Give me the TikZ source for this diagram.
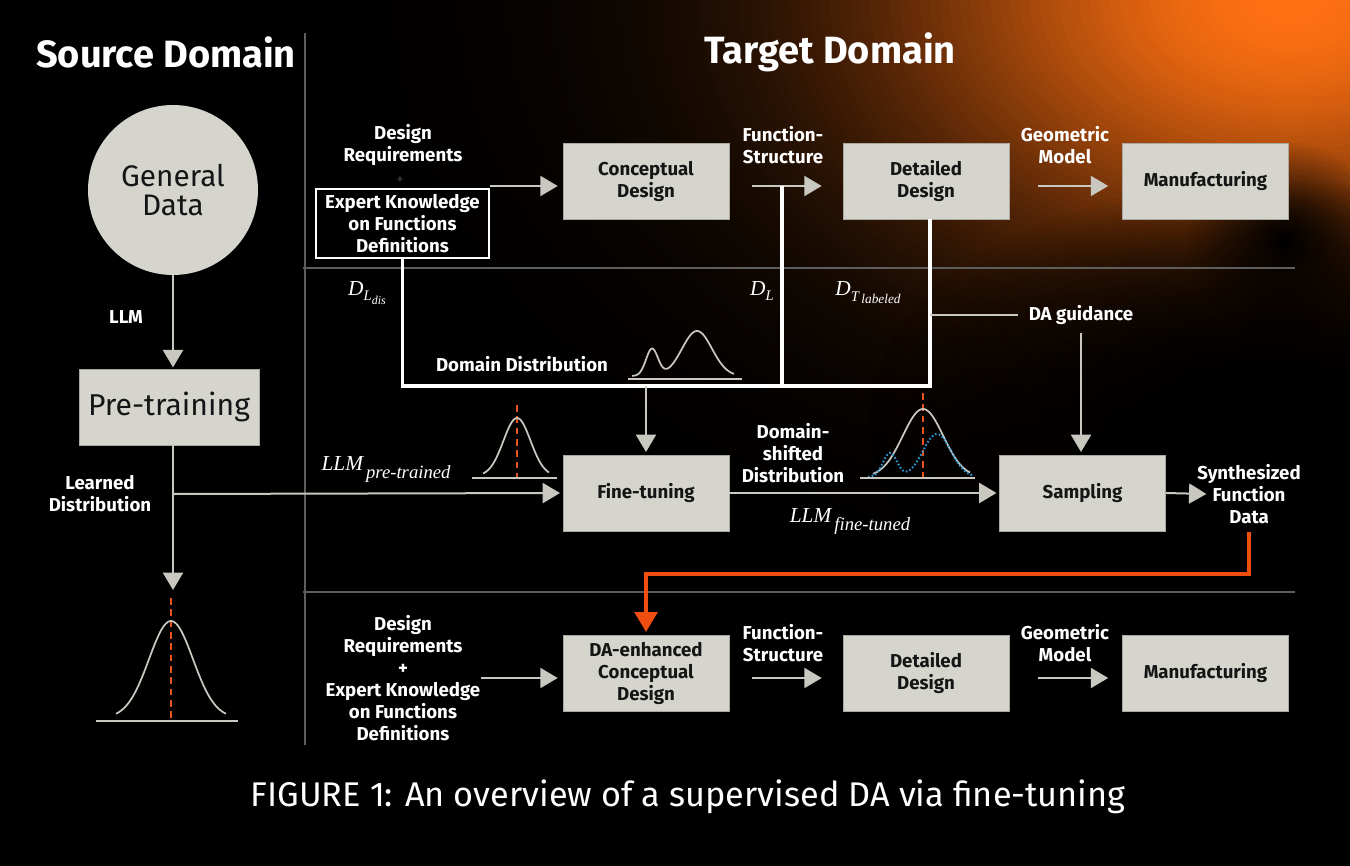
\documentclass[tikz,border=0pt]{standalone}
\usepackage{fontspec}
\setmainfont{Fira Sans}
\newfontfamily\tms{Liberation Serif}
\usetikzlibrary{arrows.meta,fadings}
\definecolor{boxfill}{HTML}{D5D5CD}
\definecolor{boxedge}{HTML}{A8A8A0}
\definecolor{boxtext}{HTML}{151515}
\definecolor{arrowgray}{HTML}{C8C8C0}
\definecolor{divgray}{HTML}{5E5E5E}
\definecolor{orangeA}{HTML}{F04E10}
\definecolor{dashor}{HTML}{E8541C}
\definecolor{bluedot}{HTML}{2A9AD8}
\definecolor{glowO}{HTML}{FF7012}
\tikzfading[name=linfade, inner color=transparent!0, outer color=transparent!100]
\newcommand\labfont{\bfseries\fontsize{14}{16.5}\selectfont}
\begin{document}
\begin{tikzpicture}[x=0.75pt,y=-0.75pt,
  box/.style={fill=boxfill, draw=boxedge, line width=0.5pt, minimum width=124.5pt, minimum height=57pt, align=center, inner sep=0pt, text=boxtext, font=\labfont},
  lab/.style={text=white, align=center, inner sep=0pt, font=\labfont},
  itl/.style={text=white, inner sep=0pt, font=\tms\itshape\fontsize{16}{16}\selectfont},
  arr/.style={draw=arrowgray, line width=1.5pt, -{Triangle[width=15pt,length=13pt]}},
  gline/.style={draw=arrowgray, line width=1.5pt},
  bracket/.style={draw=white, line width=2.6pt},
  divider/.style={draw=divgray, line width=1.5pt},
  oarr/.style={draw=orangeA, line width=3pt, -{Triangle[width=17pt,length=15pt]}},
  curve/.style={draw=arrowgray, line width=1.3pt},
  odash/.style={draw=dashor, line width=1.5pt, dash pattern=on 5pt off 3.5pt},
  bdot/.style={draw=bluedot, line width=1.5pt, dash pattern=on 1.2pt off 1.6pt}
]
\useasboundingbox (0,0) rectangle (1350,866);
\fill[black] (0,0) rectangle (1350,866);
\begin{scope}
  \clip (0,0) rectangle (1350,866);
  \foreach \i in {90,89,...,1} {
    \pgfmathsetmacro{\dd}{\i*10}
    \pgfmathsetmacro{\bv}{100*exp(-(\dd/400)^2)}
    \fill[glowO!\bv!black] (1290,0) ellipse [x radius=\dd*0.75pt, y radius=\dd*0.4875pt];
  }
  \fill[black, path fading=linfade] (1270,420) ellipse [x radius=300pt, y radius=180pt];
  \fill[black, path fading=linfade] (1270,420) ellipse [x radius=300pt, y radius=180pt];
  \fill[black, path fading=linfade] (1285,240) circle (75pt);
\end{scope}

% dividers
\draw[divider] (305,33) -- (305,745);
\draw[divider] (303,268) -- (1295,268);
\draw[divider] (303,592) -- (1295,592);

% titles
\node[text=white, font=\bfseries\fontsize{28.5}{30}\selectfont, inner sep=0] (tsrc) at (166,52) {Source Domain};
\node[text=white, font=\bfseries\fontsize{28.5}{30}\selectfont, inner sep=0] (ttgt) at (830,52) {Target Domain};

% source domain
\node[circle, fill=boxfill, minimum size=127.5pt, inner sep=0, align=center, text=boxtext, font=\fontsize{22.3}{22}\selectfont] (gd) at (173,190) {General\\Data};
\node[box, minimum width=135pt, font=\fontsize{22.6}{22}\selectfont] (pt) at (169,407) {Pre-training};
\node[lab] (llm) at (126,317) {LLM};
\node[lab] (ldl) at (100,494) {Learned\\Distribution};
\draw[arr, shorten >=1pt] (gd.south) -- (gd.south |- pt.north);
\coordinate (gtip) at (173,590);
\coordinate (ldj) at (173,494);
\draw[arr] (pt.south -| gd.south) -- (gtip);

% bottom-left gaussian
\draw[odash] (171,598) -- (171,721);
\draw[curve] plot[domain=-55:55, samples=70] ({171+\x}, {718-97*exp(-(\x)*(\x)/968)});
\draw[gline] (96,721) -- (238,721);

% target domain top row
\coordinate (row1) at (0,186);
\coordinate (row3) at (0,678);
\node[box] (cd) at (646,181) {Conceptual\\Design};
\node[box] (dd) at (926,181) {Detailed\\Design};
\node[box] (mf) at (1205.5,181) {Manufacturing};
\node[lab] (dr1) at (403,145) {Design\\Requirements};
\node[text=divgray!60!black, font=\bfseries\fontsize{9}{9}\selectfont, inner sep=0] (plus1) at (400,180) {+};
\node[draw=white, line width=1.5pt, minimum width=129.75pt, minimum height=51.75pt, align=center, inner sep=0, text=white, font=\labfont] (ek) at (402.5,223.5) {Expert Knowledge\\on Functions\\Definitions};
\node[lab] (fs1) at (783,145) {Function-\\Structure};
\node[lab] (gm1) at (1065,145) {Geometric\\Model};
\draw[arr, shorten >=3.75pt] (ek.east |- row1) -- (cd.west |- row1);
\draw[arr, shorten <=17.25pt, shorten >=15.75pt] (cd.east |- row1) -- (dd.west |- row1);
\draw[arr, shorten <=21.75pt, shorten >=10.5pt] (dd.east |- row1) -- (mf.west |- row1);

% domain bracket
\coordinate (bl) at (0,386);
\coordinate (fsj) at (782,186);
\coordinate (ddx) at ([xshift=3pt]dd.south);
\draw[bracket] (ek.south) -- (ek.south |- bl) -- (ddx |- bl) -- (ddx);
\draw[bracket] (fsj) -- (fsj |- bl);
\node[itl] (dldis) at (367,293) {D\raisebox{-4pt}{\fontsize{11}{11}\selectfont L\raisebox{-3pt}{\fontsize{9}{9}\selectfont dis}}};
\node[itl] (dl) at (762,291) {D\raisebox{-4pt}{\fontsize{11}{11}\selectfont L}};
\node[itl] (dtl) at (868,293) {D\raisebox{-4pt}{\fontsize{11}{11}\selectfont T\,\raisebox{-2pt}{\fontsize{10}{10}\selectfont labeled}}};
\node[lab] (dds) at (522,364) {Domain Distribution};
\draw[curve] plot[domain=632:734, samples=90] (\x, {376-27*exp(-(\x-652)*(\x-652)/72)-45*exp(-(\x-697)*(\x-697)/450)});
\draw[gline] (628,379) -- (742,379);

% DA guidance
\node[lab] (dag) at (1081,315) {DA guidance};
\draw[gline, shorten >=7.5pt] (ddx |- dag.west) -- (dag.west);

% middle row
\node[box] (ft) at (646,493) {Fine-tuning};
\node[box] (sp) at (1082.5,493) {Sampling};
\node[lab] (sfd) at (1249,494) {Synthesized\\Function\\Data};
\node[lab] (dsd) at (793,453) {Domain-\\shifted\\Distribution};
\draw[arr, shorten >=2pt] (ft.north |- bl) -- (ft.north);
\draw[arr, shorten <=6pt, shorten >=2pt] (dag.south) -- (dag.south |- sp.north);
\draw[arr, shorten >=2pt] (ldj) -- (ft.west);
\draw[arr, shorten >=2pt] (ft.east) -- (sp.west);
\draw[arr] (sp.east) -- ([xshift=7pt]sfd.west);
\node[itl] (llmpt) at (386,470) {LLM\raisebox{-6pt}{\fontsize{14}{14}\selectfont\,pre-trained}};
\node[itl] (llmft) at (850,522) {LLM\raisebox{-6pt}{\fontsize{14}{14}\selectfont\,fine-tuned}};

% pre-trained gaussian
\draw[odash] (517,405) -- (517,478);
\draw[curve] plot[domain=-34:32, samples=60] ({517+\x}, {476-58*exp(-(\x)*(\x)/368)});
\draw[gline] (472,478) -- (557,478);

% domain-shifted gaussian
\draw[odash] (923,393) -- (923,478);
\draw[curve] plot[domain=-50:47, samples=70] ({923+\x}, {477-68*exp(-(\x)*(\x)/814)});
\draw[bdot] plot[domain=868:972, samples=90] (\x, {477-24*exp(-(\x-890)*(\x-890)/98)-43*exp(-(\x-937)*(\x-937)/392)});
\draw[gline] (860,478) -- (975,478);

% orange feedback
\coordinate (orow) at (0,574);
\node[box] (ecd) at (646,673) {DA-enhanced\\Conceptual\\Design};
\draw[oarr, shorten <=6pt, shorten >=2pt] (sfd.south) -- (sfd.south |- orow) -| (ecd.north);

% bottom row
\node[box] (dd2) at (926,673) {Detailed\\Design};
\node[box] (mf2) at (1205.5,673) {Manufacturing};
\node[lab] (dr2) at (403,678) {Design\\Requirements\\+\\Expert Knowledge\\on Functions\\Definitions};
\node[lab] (fs2) at (783,643) {Function-\\Structure};
\node[lab] (gm2) at (1065,643) {Geometric\\Model};
\draw[arr, shorten >=3.75pt] (dr2.east |- row3) -- (ecd.west |- row3);
\draw[arr, shorten <=17.25pt, shorten >=15.75pt] (ecd.east |- row3) -- (dd2.west |- row3);
\draw[arr, shorten <=21.75pt, shorten >=10.5pt] (dd2.east |- row3) -- (mf2.west |- row3);

% caption
\node[text=white, font=\fontsize{25.7}{28}\selectfont, inner sep=0] (cap) at (688,797) {FIGURE 1: An overview of a supervised DA via fine-tuning};
\end{tikzpicture}
\end{document}
